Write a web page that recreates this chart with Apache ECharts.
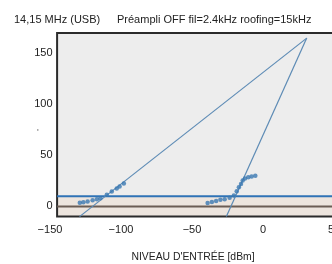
<!DOCTYPE html>
<html>
<head>
<meta charset="utf-8">
<script src="https://cdn.jsdelivr.net/npm/echarts@6/dist/echarts.min.js"></script>
<style>
  html, body { margin: 0; padding: 0; background: #fff; }
  #chart { width: 332px; height: 264px; }
</style>
</head>
<body>
<div id="chart"></div>
<script>
// Intercept plot data
const xTicks = [-150, -100, -50, 0, 50];
const yTicks = [0, 50, 100, 150];
const xRange = [-145, 70];
const yRange = [-10, 170];

// measured points, first cluster (fundamental)
const fundInput = [-129, -126.5, -123.5, -120, -117, -114.5, -110, -106.5, -103, -101, -98];
const fundOutput = [3.5, 4, 4.7, 6, 7, 8, 11.5, 14.5, 17.5, 19.5, 22.5];
// measured points, second cluster (IMD3)
const imdInput = [-39, -36, -33, -30, -27, -23.5, -20.5, -18.5, -17, -15.5, -14.3, -12.7, -10.4, -8, -5.4];
const imdOutput = [3.4, 4.4, 5.4, 6.4, 7, 8.4, 10.6, 14.8, 18.8, 22, 25.4, 27.3, 28.6, 29.3, 30];

// fitted lines meet at the intercept point
const interceptPoint = [30.8, 165];
const slope1Start = [-129.2, -10];
const slope3Start = [-25.8, -10];

const noiseLevel = 10;
const zeroLevel = 0;

const font = 'Liberation Sans, Arial, sans-serif';
const chart = echarts.init(document.getElementById('chart'));

const pairs = (xs, ys) => xs.map((x, i) => [x, ys[i]]);
const label = (size, color) => ({ fontSize: size, fontWeight: 'normal', color: color || '#222', fontFamily: font });

chart.setOption({
    animation: false,
    textStyle: { fontFamily: font },
    title: [
        { text: '14,15 MHz (USB)', left: 14, top: 14, padding: 0, textStyle: label(11) },
        { text: 'Préampli OFF fil=2.4kHz roofing=15kHz', left: 117, top: 14, padding: 0, textStyle: label(11) },
        { text: "NIVEAU D'ENTRÉE [dBm]", left: 193, top: 252, padding: 0, textAlign: 'center', textStyle: label(10.4) },
        { text: "'", left: 37, top: 128, padding: 0, textStyle: label(9, '#666') }
    ],
    grid: { left: 50, top: 33, width: 312.4, height: 183.6, outerBoundsMode: 'none', containLabel: false },
    xAxis: {
        type: 'value',
        min: xTicks[0], max: xRange[1], interval: 50,
        axisLine: { show: false },
        axisTick: { show: false },
        splitLine: { show: false },
        axisLabel: {
            margin: 8, fontSize: 11, color: '#222', fontFamily: font,
            customValues: xTicks,
            formatter: v => (v < 0 ? '\u2212' + Math.abs(v) : String(v))
        }
    },
    yAxis: {
        type: 'value',
        min: yRange[0], max: yRange[1],
        offset: -7.5,
        axisLine: { show: false },
        axisTick: { show: false },
        splitLine: { show: false },
        axisLabel: { margin: 5, fontSize: 11, color: '#222', fontFamily: font, customValues: yTicks }
    },
    series: [
        {
            // plot box and background band
            type: 'line', data: [], silent: true, z: 0,
            markArea: {
                silent: true,
                data: [
                    [{ xAxis: xRange[0], yAxis: yRange[0], itemStyle: { color: '#ededed' } }, { xAxis: xRange[1], yAxis: yRange[1] }],
                    [{ xAxis: xRange[0], yAxis: yRange[0], itemStyle: { color: '#ede5de' } }, { xAxis: xRange[1], yAxis: noiseLevel }],
                    [{ xAxis: xRange[0], yAxis: yRange[0], itemStyle: { color: 'transparent', borderColor: '#2b2b2b', borderWidth: 2 } }, { xAxis: xRange[1], yAxis: yRange[1] }]
                ]
            }
        },
        {
            type: 'line', data: [[xRange[0], zeroLevel], [xRange[1], zeroLevel]],
            symbol: 'none', lineStyle: { color: '#6b5d54', width: 2 }, z: 2
        },
        {
            type: 'line', data: [[xRange[0], noiseLevel], [xRange[1], noiseLevel]],
            symbol: 'none', lineStyle: { color: '#2f73b6', width: 2 }, z: 2
        },
        {
            type: 'line', data: [slope1Start, interceptPoint],
            symbol: 'none', lineStyle: { color: '#5d8bb5', width: 1.2 }, z: 3
        },
        {
            type: 'line', data: [slope3Start, interceptPoint],
            symbol: 'none', lineStyle: { color: '#5d8bb5', width: 1.2 }, z: 3
        },
        {
            type: 'scatter', data: pairs(fundInput, fundOutput),
            symbolSize: 4.5, itemStyle: { color: '#3a78b2' }, z: 4
        },
        {
            type: 'scatter', data: pairs(imdInput, imdOutput),
            symbolSize: 4.5, itemStyle: { color: '#3a78b2' }, z: 4
        }
    ]
});
</script>
</body>
</html>
